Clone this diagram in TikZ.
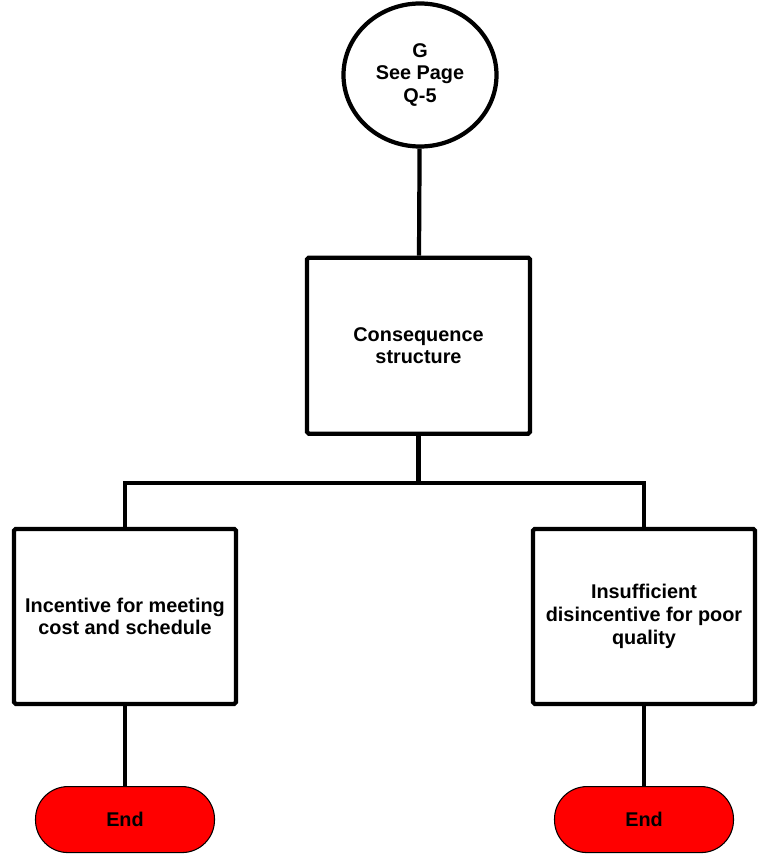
\documentclass[tikz,border=0pt]{standalone}
\usepackage{fontspec}
\setmainfont{Liberation Sans}
\usetikzlibrary{shapes,positioning,calc}
\tikzstyle{block} = [draw, fill=white, rectangle, line width=2.4pt, rounded corners=1pt, minimum width=4.44cm, minimum height=3.5cm, align=center, font=\fontsize{11.3}{13}\selectfont\bfseries]
\tikzstyle{term} = [draw, fill=red, rectangle, rounded corners=0.65cm, line width=0.6pt, minimum width=3.58cm, minimum height=1.32cm, font=\fontsize{11.3}{13}\selectfont\bfseries]

\begin{document}
\begin{tikzpicture}[line width=2.4pt]
  \useasboundingbox (0,0) rectangle (15.2,-17.18);
  \node [draw, ellipse, fill=white, line width=2.4pt, minimum width=3.06cm, minimum height=2.86cm, align=center, font=\fontsize{11.3}{13}\selectfont\bfseries] (pageg) at (8.4,-1.5) {G\\See Page\\Q-5};
  \node [block, minimum width=4.46cm, minimum height=3.52cm, below=2.14cm of pageg, xshift=-0.03cm] (cons) {Consequence\\structure};
  \node [block, below=1.82cm of cons, xshift=-5.87cm] (incent) {Incentive for meeting\\cost and schedule};
  \node [block, below=1.82cm of cons, xshift=4.51cm] (insuff) {Insufficient\\disincentive for poor\\quality};
  \node [term, below=1.6cm of incent] (endl) {End};
  \node [term, below=1.6cm of insuff] (endr) {End};
  \coordinate (split) at ($(cons.south)+(0,-0.94)$);

  \draw (pageg) -- (cons);
  \draw (cons) -- (split);
  \draw (incent.north) |- (split) -| (insuff.north);
  \draw (incent) -- (endl);
  \draw (insuff) -- (endr);
\end{tikzpicture}
\end{document}
